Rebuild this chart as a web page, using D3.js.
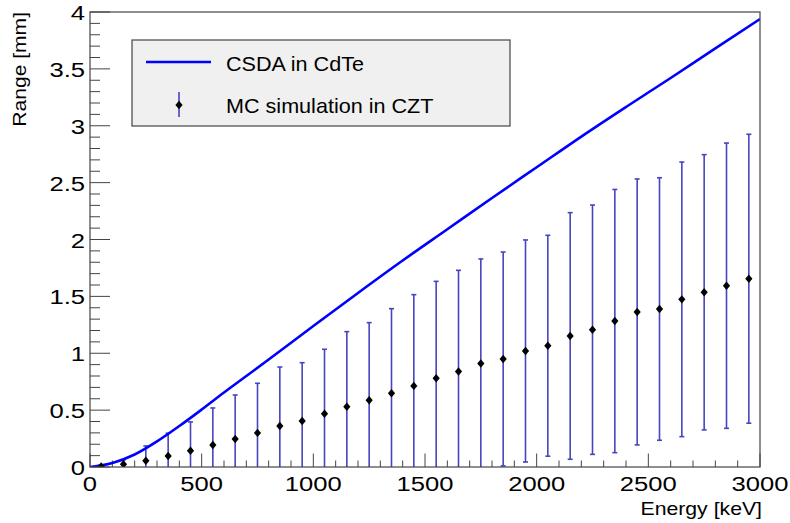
<!DOCTYPE html>
<html><head><meta charset="utf-8">
<script src="https://cdn.jsdelivr.net/npm/d3@7"></script>
<style>body{margin:0;background:#fff}svg text{font-family:"Liberation Sans",Arial,sans-serif;fill:#000}</style>
</head><body><svg id="c" width="790" height="523"></svg>
<script>
// MC simulation points
const energy = [50,150,250,350,450,550,650,750,850,950,1050,1150,1250,1350,1450,1550,1650,1750,1850,1950,2050,2150,2250,2350,2450,2550,2650,2750,2850,2950];
const mcRange = [0.005,0.025,0.055,0.097,0.143,0.193,0.246,0.30,0.36,0.404,0.468,0.53,0.587,0.649,0.713,0.78,0.84,0.91,0.95,1.02,1.066,1.152,1.207,1.283,1.363,1.389,1.474,1.536,1.594,1.655];
const mcErr = [0.01,0.04,0.13,0.2,0.253,0.326,0.387,0.436,0.519,0.513,0.567,0.66,0.682,0.743,0.802,0.852,0.889,0.919,0.94,0.976,0.971,1.084,1.096,1.157,1.169,1.154,1.207,1.21,1.254,1.27];
// CSDA curve
const csdaE = [0,100,200,300,400,500,600,700,800,1000,1200,1400,1600,1800,2000,2200,2400,2600,2800,3000];
const csdaR = [0,0.035,0.11,0.225,0.36,0.505,0.655,0.80,0.945,1.24,1.53,1.815,2.09,2.365,2.635,2.905,3.165,3.42,3.68,3.938];
const xTicks = [0,500,1000,1500,2000,2500,3000];
const yTicks = [0,0.5,1,1.5,2,2.5,3,3.5,4];
const xTickLabels = ["0","500","1000","1500","2000","2500","3000"];
const yTickLabels = ["0","0.5","1","1.5","2","2.5","3","3.5","4"];
const legendLabels = ["CSDA in CdTe","MC simulation in CZT"];

const L=90,R=760,T=12,B=467;
const svg=d3.select("#c");
const x=d3.scaleLinear().domain([0,3000]).range([L,R]);
const y=d3.scaleLinear().domain([0,4]).range([B,T]);
const frameCol="#444";
const errCol="#4545c0";

svg.append("defs").append("clipPath").attr("id","clip").append("rect")
  .attr("x",L).attr("y",T).attr("width",R-L).attr("height",B-T);

// minor/major ticks (inside)
const g=svg.append("g");
d3.range(0,3001,100).forEach(v=>{
  const major=v%500===0;
  g.append("line").attr("x1",x(v)).attr("x2",x(v)).attr("y1",B).attr("y2",B-(major?13.5:6.5))
   .attr("stroke",frameCol).attr("stroke-width",1);
});
d3.range(0,41,1).forEach(i=>{
  const v=i/10, major=i%5===0;
  g.append("line").attr("x1",L).attr("x2",L+(major?20:10)).attr("y1",y(v)).attr("y2",y(v))
   .attr("stroke",frameCol).attr("stroke-width",1);
});

const plot=svg.append("g").attr("clip-path","url(#clip)");
// error bars
energy.forEach((e,i)=>{
  const v=mcRange[i], er=mcErr[i];
  const lo=Math.max(0,v-er), hi=v+er;
  plot.append("line").attr("x1",x(e)).attr("x2",x(e)).attr("y1",y(lo)).attr("y2",y(hi))
    .attr("stroke",errCol).attr("stroke-width",1.6);
  plot.append("line").attr("x1",x(e)-2.5).attr("x2",x(e)+2.5).attr("y1",y(hi)).attr("y2",y(hi))
    .attr("stroke",errCol).attr("stroke-width",1.6);
  if(v-er>0) plot.append("line").attr("x1",x(e)-2.5).attr("x2",x(e)+2.5).attr("y1",y(lo)).attr("y2",y(lo))
    .attr("stroke",errCol).attr("stroke-width",1.6);
});
// CSDA curve
const line=d3.line().x((d,i)=>x(csdaE[i])).y((d,i)=>y(csdaR[i])).curve(d3.curveMonotoneX);
plot.append("path").attr("d",line(csdaE)).attr("fill","none").attr("stroke","#0000ff").attr("stroke-width",2.6);
// markers
const diamond="M0,-4.2L3.6,0L0,4.2L-3.6,0Z";
energy.forEach((e,i)=>{
  plot.append("path").attr("d",diamond).attr("transform",`translate(${x(e)},${y(mcRange[i])})`).attr("fill","#000");
});

// frame
svg.append("rect").attr("x",L).attr("y",T).attr("width",R-L).attr("height",B-T)
  .attr("fill","none").attr("stroke",frameCol).attr("stroke-width",1.2);

// tick labels
const sx=1.22;
xTicks.forEach((v,i)=>{
  svg.append("text").attr("transform",`translate(${x(v)},${491}) scale(${sx},1)`)
   .attr("text-anchor","middle").attr("font-size",21).text(xTickLabels[i]);
});
yTicks.forEach((v,i)=>{
  svg.append("text").attr("transform",`translate(${85},${y(v)+8}) scale(${sx},1)`)
   .attr("text-anchor","end").attr("font-size",21).text(yTickLabels[i]);
});
// axis titles
svg.append("text").attr("transform",`translate(762,515) scale(1.18,1)`).attr("text-anchor","end")
  .attr("font-size",18).text("Energy [keV]");
svg.append("text").attr("transform",`translate(26,12) rotate(-90) scale(1.17,1)`).attr("text-anchor","end")
  .attr("font-size",18).text("Range [mm]");

// legend
const lg=svg.append("g");
lg.append("rect").attr("x",132).attr("y",40).attr("width",378).attr("height",86)
  .attr("fill","#f0f0f0").attr("stroke",frameCol).attr("stroke-width",1.2);
lg.append("line").attr("x1",146).attr("x2",211).attr("y1",62).attr("y2",62).attr("stroke","#0000ff").attr("stroke-width",2.6);
lg.append("line").attr("x1",179).attr("x2",179).attr("y1",92).attr("y2",117).attr("stroke",errCol).attr("stroke-width",1.6);
lg.append("path").attr("d",diamond).attr("transform","translate(179,105)").attr("fill","#000");
lg.append("text").attr("transform","translate(226,70.5) scale(1.08,1)").attr("font-size",20).text(legendLabels[0]);
lg.append("text").attr("transform","translate(226,113) scale(1.08,1)").attr("font-size",20).text(legendLabels[1]);
</script></body></html>
